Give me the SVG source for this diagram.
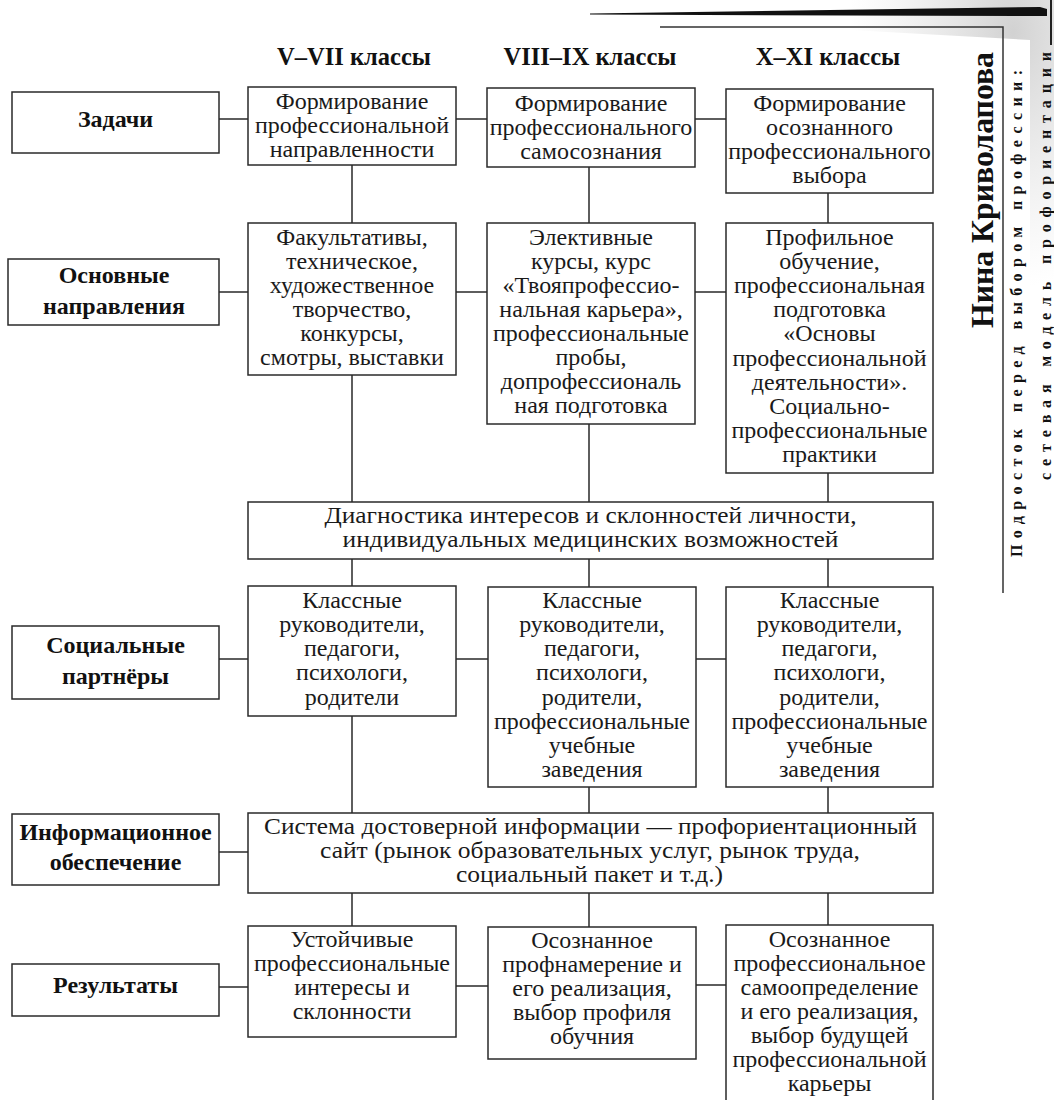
<svg xmlns="http://www.w3.org/2000/svg" width="1054" height="1100" viewBox="0 0 1054 1100">
<defs>
<radialGradient id="smear" cx="0.8" cy="0.1" r="0.8">
<stop offset="0" stop-color="#9a9a9a" stop-opacity="0.45"/>
<stop offset="1" stop-color="#bdbdbd" stop-opacity="0"/>
</radialGradient>
</defs>
<style>
.box{fill:#fff;stroke:#2a2a2a;stroke-width:1.5}
.ln{stroke:#2a2a2a;stroke-width:1.5;fill:none}
.t{font-family:'Liberation Serif','Times New Roman',serif;font-size:24px;fill:#1a1a1a;text-anchor:middle}
.b{font-family:'Liberation Serif','Times New Roman',serif;font-size:24px;font-weight:bold;fill:#111;text-anchor:middle}
.h{font-size:24.5px}
.v{font-family:'Liberation Serif','Times New Roman',serif;font-weight:bold;fill:#111}
</style>
<rect width="1054" height="1100" fill="#fff"/>
<g id="header-decor">
<path d="M850,0 L1054,0 L1054,320 L1030,320 L1030,40 L850,30 Z" fill="url(#smear)"/>
<polygon points="590,13.4 1040,7 1047,9 1047,16 590,14.6" fill="#111"/>
<line x1="1051" y1="0" x2="1051" y2="45" stroke="#222" stroke-width="2"/>
<polyline points="660,27 1003,27 1003,593" fill="none" stroke="#333" stroke-width="1.5"/>
<text class="v" font-size="31" transform="translate(993,328) rotate(-90)" textLength="276" lengthAdjust="spacingAndGlyphs">Нина Криволапова</text>
<text class="v" font-size="16" transform="translate(1022,557) rotate(-90)" textLength="487" lengthAdjust="spacing">Подросток перед выбором профессии:</text>
<text class="v" font-size="16" transform="translate(1051,480) rotate(-90)" textLength="428" lengthAdjust="spacing">сетевая модель профориентации</text>
</g>
<g id="column-headers">
<text class="b h" x="354" y="65">V–VII классы</text>
<text class="b h" x="590" y="65">VIII–IX классы</text>
<text class="b h" x="828" y="65">X–XI классы</text>
</g>
<g id="connectors">
<path class="ln" d="M219,119H248M456,119H487M695,119H726"/>
<path class="ln" d="M219,292H248M456,292H487M695,292H726"/>
<path class="ln" d="M219,659H248M456,659H488M696,659H726"/>
<path class="ln" d="M219,852H248"/>
<path class="ln" d="M219,987H248M456,986H488M696,985H726"/>
<path class="ln" d="M352,165V223M352,375V502M352,559V586M352,716V813M352,893V926"/>
<path class="ln" d="M589,167V223M589,424V502M589,559V587M589,787V813M589,893V927"/>
<path class="ln" d="M828,193V223M828,473V502M828,559V587M828,787V813M828,893V925"/>
</g>
<g id="label-zadachi">
<rect class="box" x="12" y="92" width="207" height="61"/>
<text class="b" x="115.5" y="127">Задачи</text>
</g>
<g id="label-napravleniya">
<rect class="box" x="8" y="259" width="211" height="66"/>
<text class="b" x="114"><tspan x="114" y="283">Основные</tspan><tspan x="114" y="314">направления</tspan></text>
</g>
<g id="label-partnery">
<rect class="box" x="12" y="626" width="207" height="73"/>
<text class="b" x="115.5"><tspan x="115.5" y="653">Социальные</tspan><tspan x="115.5" y="684">партнёры</tspan></text>
</g>
<g id="label-info">
<rect class="box" x="12" y="814" width="207" height="71"/>
<text class="b" x="115.5"><tspan x="115.5" y="840">Информационное</tspan><tspan x="115.5" y="870">обеспечение</tspan></text>
</g>
<g id="label-rezultaty">
<rect class="box" x="12" y="964" width="207" height="52"/>
<text class="b" x="115.5" y="993">Результаты</text>
</g>
<g id="task-1">
<rect class="box" x="248" y="87" width="208" height="78"/>
<text class="t"><tspan x="352" y="109">Формирование</tspan><tspan x="352" y="133">профессиональной</tspan><tspan x="352" y="157">направленности</tspan></text>
</g>
<g id="task-2">
<rect class="box" x="487" y="88" width="208" height="79"/>
<text class="t"><tspan x="591" y="111">Формирование</tspan><tspan x="591" y="135">профессионального</tspan><tspan x="591" y="159">самосознания</tspan></text>
</g>
<g id="task-3">
<rect class="box" x="726" y="89" width="207" height="104"/>
<text class="t"><tspan x="829.5" y="111">Формирование</tspan><tspan x="829.5" y="135">осознанного</tspan><tspan x="829.5" y="159">профессионального</tspan><tspan x="829.5" y="183">выбора</tspan></text>
</g>
<g id="dir-1">
<rect class="box" x="248" y="223" width="208" height="152"/>
<text class="t"><tspan x="352" y="245">Факультативы,</tspan><tspan x="352" y="269">техническое,</tspan><tspan x="352" y="293">художественное</tspan><tspan x="352" y="317">творчество,</tspan><tspan x="352" y="341">конкурсы,</tspan><tspan x="352" y="365">смотры, выставки</tspan></text>
</g>
<g id="dir-2">
<rect class="box" x="487" y="223" width="208" height="201"/>
<text class="t"><tspan x="591" y="245">Элективные</tspan><tspan x="591" y="269">курсы, курс</tspan><tspan x="591" y="293">«Твояпрофессио-</tspan><tspan x="591" y="317">нальная карьера»,</tspan><tspan x="591" y="341">профессиональные</tspan><tspan x="591" y="365">пробы,</tspan><tspan x="591" y="389">допрофессиональ</tspan><tspan x="591" y="413">ная подготовка</tspan></text>
</g>
<g id="dir-3">
<rect class="box" x="726" y="223" width="207" height="250"/>
<text class="t"><tspan x="829.5" y="245">Профильное</tspan><tspan x="829.5" y="269">обучение,</tspan><tspan x="829.5" y="293">профессиональная</tspan><tspan x="829.5" y="317">подготовка</tspan><tspan x="829.5" y="341">«Основы</tspan><tspan x="829.5" y="366">профессиональной</tspan><tspan x="829.5" y="390">деятельности».</tspan><tspan x="829.5" y="414">Социально-</tspan><tspan x="829.5" y="438">профессиональные</tspan><tspan x="829.5" y="462">практики</tspan></text>
</g>
<g id="diagnostics">
<rect class="box" x="248" y="502" width="685" height="57"/>
<text class="t" x="590.5" y="523" textLength="532" lengthAdjust="spacingAndGlyphs">Диагностика интересов и склонностей личности,</text>
<text class="t" x="590.5" y="547" textLength="496" lengthAdjust="spacingAndGlyphs">индивидуальных медицинских возможностей</text>
</g>
<g id="partners-1">
<rect class="box" x="248" y="586" width="208" height="130"/>
<text class="t"><tspan x="352" y="608">Классные</tspan><tspan x="352" y="632">руководители,</tspan><tspan x="352" y="656">педагоги,</tspan><tspan x="352" y="680">психологи,</tspan><tspan x="352" y="705">родители</tspan></text>
</g>
<g id="partners-2">
<rect class="box" x="488" y="587" width="208" height="200"/>
<text class="t"><tspan x="592" y="608">Классные</tspan><tspan x="592" y="632">руководители,</tspan><tspan x="592" y="656">педагоги,</tspan><tspan x="592" y="680">психологи,</tspan><tspan x="592" y="705">родители,</tspan><tspan x="592" y="729">профессиональные</tspan><tspan x="592" y="753">учебные</tspan><tspan x="592" y="777">заведения</tspan></text>
</g>
<g id="partners-3">
<rect class="box" x="726" y="587" width="207" height="200"/>
<text class="t"><tspan x="829.5" y="608">Классные</tspan><tspan x="829.5" y="632">руководители,</tspan><tspan x="829.5" y="656">педагоги,</tspan><tspan x="829.5" y="680">психологи,</tspan><tspan x="829.5" y="705">родители,</tspan><tspan x="829.5" y="729">профессиональные</tspan><tspan x="829.5" y="753">учебные</tspan><tspan x="829.5" y="777">заведения</tspan></text>
</g>
<g id="info-system">
<rect class="box" x="248" y="813" width="685" height="80"/>
<text class="t" x="590.5" y="834" textLength="653" lengthAdjust="spacingAndGlyphs">Система достоверной информации — профориентационный</text>
<text class="t" x="590" y="858" textLength="540" lengthAdjust="spacingAndGlyphs">сайт (рынок образовательных услуг, рынок труда,</text>
<text class="t" x="589.5" y="882" textLength="267" lengthAdjust="spacingAndGlyphs">социальный пакет и т.д.)</text>
</g>
<g id="result-1">
<rect class="box" x="248" y="926" width="208" height="111"/>
<text class="t"><tspan x="352" y="947">Устойчивые</tspan><tspan x="352" y="971">профессиональные</tspan><tspan x="352" y="995">интересы и</tspan><tspan x="352" y="1019">склонности</tspan></text>
</g>
<g id="result-2">
<rect class="box" x="488" y="927" width="208" height="132"/>
<text class="t"><tspan x="592" y="948">Осознанное</tspan><tspan x="592" y="972">профнамерение и</tspan><tspan x="592" y="996">его реализация,</tspan><tspan x="592" y="1020">выбор профиля</tspan><tspan x="592" y="1044">обучния</tspan></text>
</g>
<g id="result-3">
<rect class="box" x="726" y="925" width="207" height="180"/>
<text class="t"><tspan x="829.5" y="947">Осознанное</tspan><tspan x="829.5" y="971">профессиональное</tspan><tspan x="829.5" y="995">самоопределение</tspan><tspan x="829.5" y="1019">и его реализация,</tspan><tspan x="829.5" y="1043">выбор будущей</tspan><tspan x="829.5" y="1067">профессиональной</tspan><tspan x="829.5" y="1091">карьеры</tspan></text>
</g>
</svg>
